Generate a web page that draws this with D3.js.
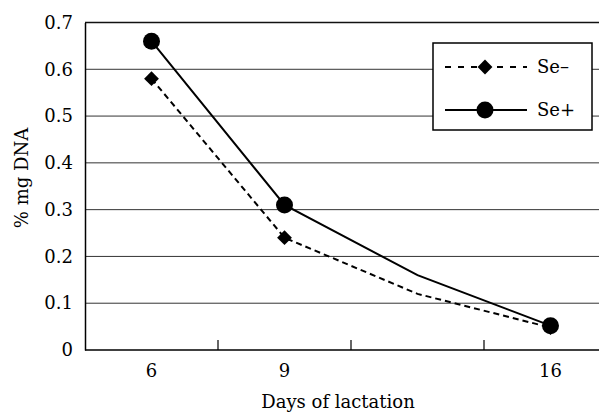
<!DOCTYPE html>
<html>
<head>
<meta charset="utf-8">
<script src="https://cdn.jsdelivr.net/npm/d3@7"></script>
<style>
  body { margin: 0; background: #fff; }
  svg { display: block; }
</style>
</head>
<body>
<svg id="chart" width="599" height="414"></svg>
<script>
// categories on the x axis (third one carries no label or marker in the original)
const days = ["6", "9", "12", "16"];
const dayLabels = ["6", "9", "", "16"];
const markerDays = ["6", "9", "16"];
const seMinus = [0.58, 0.24, 0.12, 0.048];
const sePlus = [0.66, 0.31, 0.16, 0.052];
const yTicks = [0, 0.1, 0.2, 0.3, 0.4, 0.5, 0.6, 0.7];

const FONT = "DejaVu Serif";
const svg = d3.select("#chart");
const W = 599;

// band scale runs past the right edge, the picture is cropped there
let x = d3.scaleBand()
  .domain(days)
  .range([85, 617])
  .padding(0);

let y = d3.scaleLinear()
  .domain([0, 0.7])
  .range([350, 22.5]);

const cx = d => x(d) + x.bandwidth() / 2;

// horizontal grid lines
svg.append("g").selectAll("line")
  .data(yTicks.filter(t => t > 0 && t < 0.7))
  .enter().append("line")
  .attr("x1", x.range()[0]).attr("x2", W)
  .attr("y1", d => y(d)).attr("y2", d => y(d))
  .attr("stroke", "#333")
  .attr("stroke-width", 1);

// top border
svg.append("line")
  .attr("x1", x.range()[0]).attr("x2", W)
  .attr("y1", y(0.7)).attr("y2", y(0.7))
  .attr("stroke", "#111").attr("stroke-width", 1.3);

// y axis
let yAxis = d3.axisLeft(y).tickValues(yTicks)
  .tickFormat(d => d === 0 ? "0" : d3.format(".1f")(d))
  .tickSize(0).tickPadding(12);
let gy = svg.append("g").attr("transform", "translate(" + x.range()[0] + ",0)").call(yAxis);
gy.attr("font-family", FONT).attr("font-size", 18);
gy.select(".domain").attr("stroke", "#000").attr("stroke-width", 1.5);
gy.selectAll("text").attr("fill", "#000");

// x axis: labels under category centres, ticks at category boundaries pointing up
let xAxis = d3.axisBottom(x).tickFormat((d, i) => dayLabels[i]).tickSize(0).tickPadding(14);
let gx = svg.append("g").attr("transform", "translate(0," + y(0) + ")").call(xAxis);
gx.attr("font-family", FONT).attr("font-size", 18);
gx.select(".domain").attr("stroke", "#000").attr("stroke-width", 1.5)
  .attr("d", "M" + x.range()[0] + ",0H" + W);
gx.selectAll("text").attr("fill", "#000");

svg.append("g").selectAll("line")
  .data(days.slice(1))
  .enter().append("line")
  .attr("x1", d => x(d)).attr("x2", d => x(d))
  .attr("y1", y(0)).attr("y2", y(0) - 10)
  .attr("stroke", "#000").attr("stroke-width", 1.2);

// lines
let line = d3.line()
  .x((d, i) => cx(days[i]))
  .y(d => y(d));

svg.append("path")
  .datum(seMinus)
  .attr("d", line)
  .attr("fill", "none")
  .attr("stroke", "#000")
  .attr("stroke-width", 2)
  .attr("stroke-dasharray", "6,4");

svg.append("path")
  .datum(sePlus)
  .attr("d", line)
  .attr("fill", "none")
  .attr("stroke", "#000")
  .attr("stroke-width", 2);

// markers
const diamond = d3.symbol().type(d3.symbolDiamond2).size(140);

svg.append("g").selectAll("path")
  .data(markerDays)
  .enter().append("path")
  .attr("d", diamond)
  .attr("transform", d => "translate(" + cx(d) + "," + y(seMinus[days.indexOf(d)]) + ")")
  .attr("fill", "#000");

svg.append("g").selectAll("circle")
  .data(markerDays)
  .enter().append("circle")
  .attr("cx", d => cx(d))
  .attr("cy", d => y(sePlus[days.indexOf(d)]))
  .attr("r", 8.5)
  .attr("fill", "#000");

// legend
let legend = svg.append("g").attr("font-family", FONT).attr("font-size", 18);
legend.append("rect")
  .attr("x", 433).attr("y", 43)
  .attr("width", 159).attr("height", 87)
  .attr("fill", "#fff").attr("stroke", "#000").attr("stroke-width", 1.5);

legend.append("line")
  .attr("x1", 445).attr("x2", 527).attr("y1", 67).attr("y2", 67)
  .attr("stroke", "#000").attr("stroke-width", 2).attr("stroke-dasharray", "6,7");
legend.append("path")
  .attr("d", diamond)
  .attr("transform", "translate(485,67)")
  .attr("fill", "#000");
legend.append("text")
  .attr("x", 537).attr("y", 73)
  .text("Se\u2013");

legend.append("line")
  .attr("x1", 445).attr("x2", 527).attr("y1", 110).attr("y2", 110)
  .attr("stroke", "#000").attr("stroke-width", 2);
legend.append("circle")
  .attr("cx", 485).attr("cy", 110).attr("r", 8.5)
  .attr("fill", "#000");
legend.append("text")
  .attr("x", 537).attr("y", 116)
  .text("Se+");

// axis titles
svg.append("text")
  .attr("x", 338).attr("y", 408)
  .attr("text-anchor", "middle")
  .attr("font-family", FONT).attr("font-size", 18)
  .text("Days of lactation");

svg.append("text")
  .attr("transform", "rotate(-90)")
  .attr("x", -178).attr("y", 28)
  .attr("text-anchor", "middle")
  .attr("font-family", FONT).attr("font-size", 18)
  .text("% mg DNA");
</script>
</body>
</html>
